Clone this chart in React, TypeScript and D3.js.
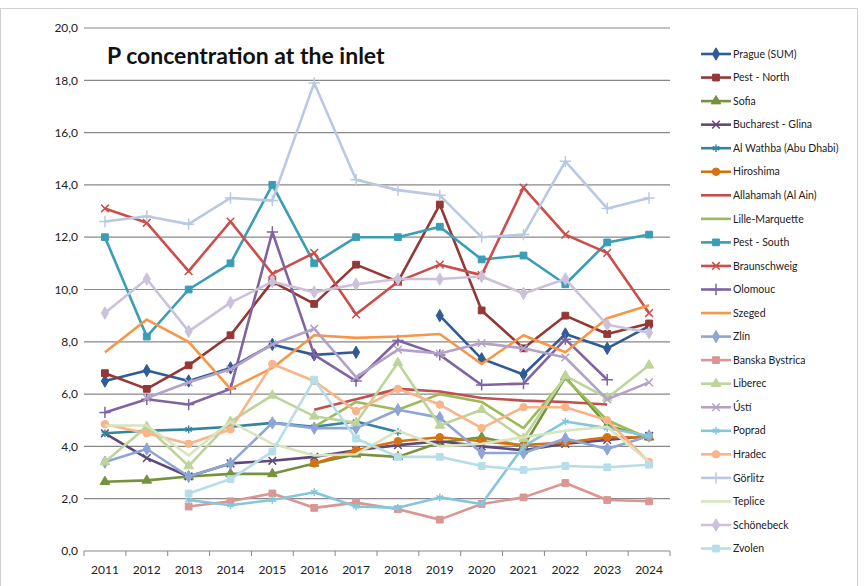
import * as d3 from 'd3';

const years = ['2011', '2012', '2013', '2014', '2015', '2016', '2017', '2018', '2019', '2020', '2021', '2022', '2023', '2024'];
const yTicks = [0, 2, 4, 6, 8, 10, 12, 14, 16, 18, 20];

type V = number | null;
const pragueSum: V[] = [6.5, 6.9, 6.5, 7.0, 7.9, 7.5, 7.6, null, 9.0, 7.35, 6.75, 8.3, 7.75, 8.6];
const pestNorth: V[] = [6.8, 6.2, 7.1, 8.25, 10.3, 9.45, 10.95, 10.3, 13.25, 9.2, 7.75, 9.0, 8.3, 8.7];
const sofia: V[] = [2.65, 2.7, 2.85, 2.95, 2.95, 3.35, 3.7, 3.6, 4.15, 4.35, 4.0, 6.65, 4.8, 4.35];
const bucharest: V[] = [4.5, 3.55, 2.85, 3.35, 3.45, 3.6, 3.85, 4.05, 4.2, 4.0, 3.85, 4.1, 4.25, 4.4];
const alWathba: V[] = [4.5, 4.6, 4.65, 4.75, 4.9, 4.75, 4.95, 4.55, null, null, null, null, null, null];
const hiroshima: V[] = [null, null, null, null, null, 3.35, 3.85, 4.2, 4.35, 4.2, 4.05, 4.15, 4.35, 4.35];
const allahamah: V[] = [null, null, null, null, null, 5.4, 5.8, 6.2, 6.1, 5.85, 5.75, 5.7, 5.6, null];
const lilleMarquette: V[] = [null, null, null, null, null, 4.75, 5.7, 5.4, 6.0, 5.7, 4.7, 6.6, 5.0, 4.3];
const pestSouth: V[] = [12.0, 8.2, 10.0, 11.0, 14.0, 11.0, 12.0, 12.0, 12.4, 11.15, 11.3, 10.2, 11.8, 12.1];
const braunschweig: V[] = [13.1, 12.55, 10.7, 12.6, 10.6, 11.4, 9.05, 10.3, 10.95, 10.55, 13.9, 12.1, 11.4, 9.1];
const olomouc: V[] = [5.3, 5.8, 5.6, 6.2, 12.2, 7.5, 6.5, 8.05, 7.5, 6.35, 6.4, 8.1, 6.55, null];
const szeged: V[] = [7.6, 8.85, 8.0, 6.2, 7.0, 8.25, 8.15, 8.2, 8.3, 7.15, 8.25, 7.6, 8.9, 9.4];
const zlin: V[] = [3.4, 3.9, 2.85, 3.35, 4.9, 4.7, 4.7, 5.4, 5.1, 3.75, 3.75, 4.3, 3.9, 4.4];
const banskaBystrica: V[] = [null, null, 1.7, 1.9, 2.2, 1.65, 1.85, 1.6, 1.2, 1.8, 2.05, 2.6, 1.95, 1.9];
const liberec: V[] = [3.4, 4.75, 3.25, 4.95, 5.95, 5.15, 4.9, 7.2, 4.8, 5.4, 4.3, 6.7, 5.85, 7.1];
const usti: V[] = [null, 5.85, 6.45, 6.95, 7.9, 8.5, 6.65, 7.7, 7.55, 7.95, 7.75, 7.4, 5.8, 6.45];
const poprad: V[] = [null, null, 1.95, 1.75, 1.95, 2.25, 1.7, 1.65, 2.05, 1.8, 4.0, 4.95, 4.7, 4.4];
const hradec: V[] = [4.85, 4.5, 4.1, 4.65, 7.15, 6.5, 5.35, 6.2, 5.6, 4.7, 5.5, 5.5, 5.0, 3.4];
const gorlitz: V[] = [12.6, 12.8, 12.5, 13.5, 13.4, 17.9, 14.2, 13.8, 13.6, 12.0, 12.1, 14.9, 13.1, 13.5];
const teplice: V[] = [4.8, 4.8, 3.65, 4.95, 4.1, 3.65, 3.7, 4.6, 4.0, 4.1, 4.35, 4.6, 4.75, 3.4];
const schonebeck: V[] = [9.1, 10.4, 8.4, 9.5, 10.3, 9.9, 10.2, 10.4, 10.4, 10.5, 9.85, 10.4, 8.65, 8.35];
const zvolen: V[] = [null, null, 2.2, 2.75, 3.8, 6.55, 4.3, 3.6, 3.6, 3.25, 3.1, 3.25, 3.2, 3.3];

type Marker = 'diamond' | 'square' | 'triangle' | 'times' | 'asterisk' | 'circle' | 'plus' | 'none';
interface Series { name: string; values: V[]; color: string; marker: Marker; }

const series: Series[] = [
  { name: 'Prague (SUM)', values: pragueSum, color: '#2F5B96', marker: 'diamond' },
  { name: 'Pest - North', values: pestNorth, color: '#953735', marker: 'square' },
  { name: 'Sofia', values: sofia, color: '#76923C', marker: 'triangle' },
  { name: 'Bucharest - Glina', values: bucharest, color: '#5F497A', marker: 'times' },
  { name: 'Al Wathba (Abu Dhabi)', values: alWathba, color: '#31859C', marker: 'asterisk' },
  { name: 'Hiroshima', values: hiroshima, color: '#D9700F', marker: 'circle' },
  { name: 'Allahamah (Al Ain)', values: allahamah, color: '#C0504D', marker: 'none' },
  { name: 'Lille-Marquette', values: lilleMarquette, color: '#9BBB59', marker: 'none' },
  { name: 'Pest - South', values: pestSouth, color: '#3A9DB6', marker: 'square' },
  { name: 'Braunschweig', values: braunschweig, color: '#CC4D4A', marker: 'times' },
  { name: 'Olomouc', values: olomouc, color: '#8064A2', marker: 'plus' },
  { name: 'Szeged', values: szeged, color: '#F79646', marker: 'none' },
  { name: 'Zlín', values: zlin, color: '#8EA5D6', marker: 'diamond' },
  { name: 'Banska Bystrica', values: banskaBystrica, color: '#D99694', marker: 'square' },
  { name: 'Liberec', values: liberec, color: '#BDD49A', marker: 'triangle' },
  { name: 'Ústí', values: usti, color: '#B3A2C7', marker: 'times' },
  { name: 'Poprad', values: poprad, color: '#86C6DB', marker: 'asterisk' },
  { name: 'Hradec', values: hradec, color: '#F9B48A', marker: 'circle' },
  { name: 'Görlitz', values: gorlitz, color: '#B9C9E3', marker: 'plus' },
  { name: 'Teplice', values: teplice, color: '#D7E4BD', marker: 'none' },
  { name: 'Schönebeck', values: schonebeck, color: '#CCC1DA', marker: 'diamond' },
  { name: 'Zvolen', values: zvolen, color: '#B7DEE8', marker: 'square' },
];

const W = 865;
const H = 586;
const plot = { left: 84, right: 670, top: 28, bottom: 551 };
const font = 'Lato, "Noto Sans", sans-serif';

const x = d3.scaleBand<string>().domain(years).range([plot.left, plot.right]);
const y = d3.scaleLinear().domain([0, 20]).range([plot.bottom, plot.top]);
const cx = (yr: string) => (x(yr) ?? 0) + x.bandwidth() / 2;

const symbolPath = (m: Marker) => {
  switch (m) {
    case 'diamond': return d3.symbol(d3.symbolDiamond, 44)();
    case 'square': return d3.symbol(d3.symbolSquare, 46)();
    case 'triangle': return d3.symbol(d3.symbolTriangle, 40)();
    case 'circle': return d3.symbol(d3.symbolCircle, 44)();
    case 'times': return d3.symbol(d3.symbolTimes, 40)();
    case 'asterisk': return d3.symbol(d3.symbolAsterisk, 40)();
    case 'plus': return d3.symbol(d3.symbolPlus, 44)();
    default: return null;
  }
};
const isStroke = (m: Marker) => m === 'times' || m === 'asterisk' || m === 'plus';

const MarkerMark = ({ m, color, tx, ty }: { m: Marker; color: string; tx: number; ty: number }) => {
  const p = symbolPath(m);
  if (!p) return null;
  return isStroke(m)
    ? <path d={p} transform={`translate(${tx},${ty})`} fill="none" stroke={color} strokeWidth={1.5} />
    : <path d={p} transform={`translate(${tx},${ty})`} fill={color} stroke={color} strokeWidth={1} />;
};

const fmt = (v: number) => v.toFixed(1).replace('.', ',');

export default function App() {
  const line = d3.line<V>()
    .defined(d => d !== null)
    .x((_, i) => cx(years[i]))
    .y(d => y(d as number));

  const legendY0 = 54;
  const legendStep = 23.55;

  return (
    <svg width={W} height={H} style={{ position: 'absolute', left: 0, top: 0, background: '#fff' }} fontFamily={font}>
      <rect x={0.5} y={8.5} width={857} height={590} fill="none" stroke="#d0d0d0" />
      {yTicks.map(t => (
        <g key={t}>
          <line x1={plot.left} x2={plot.right} y1={y(t)} y2={y(t)} stroke="#888" strokeWidth={1.2} />
          <text x={plot.left - 6} y={y(t)} dy="0.35em" textAnchor="end" fontSize={12} fill="#222">{fmt(t)}</text>
        </g>
      ))}
      {years.map(yr => (
        <line key={'tk' + yr} x1={x(yr) ?? 0} x2={x(yr) ?? 0} y1={plot.bottom} y2={plot.bottom + 5} stroke="#888" />
      ))}
      <line x1={plot.right} x2={plot.right} y1={plot.bottom} y2={plot.bottom + 5} stroke="#888" />
      {years.map(yr => (
        <text key={'xl' + yr} x={cx(yr)} y={574} textAnchor="middle" fontSize={12} fill="#222">{yr}</text>
      ))}
      <text x={107} y={64} fontSize={23} fontWeight="bold" fill="#111">P concentration at the inlet</text>
      {series.map(s => (
        <g key={s.name}>
          <path d={line(s.values) ?? ''} fill="none" stroke={s.color} strokeWidth={2.6} strokeLinejoin="round" />
          {s.values.map((v, i) => v === null ? null : (
            <MarkerMark key={i} m={s.marker} color={s.color} tx={cx(years[i])} ty={y(v)} />
          ))}
        </g>
      ))}
      {series.map((s, i) => {
        const ly = legendY0 + i * legendStep;
        return (
          <g key={'lg' + s.name}>
            <line x1={701} x2={731} y1={ly} y2={ly} stroke={s.color} strokeWidth={2.6} />
            <MarkerMark m={s.marker} color={s.color} tx={716} ty={ly} />
            <text x={733} y={ly} dy="0.35em" fontSize={10.5} fill="#222">{s.name}</text>
          </g>
        );
      })}
    </svg>
  );
}
